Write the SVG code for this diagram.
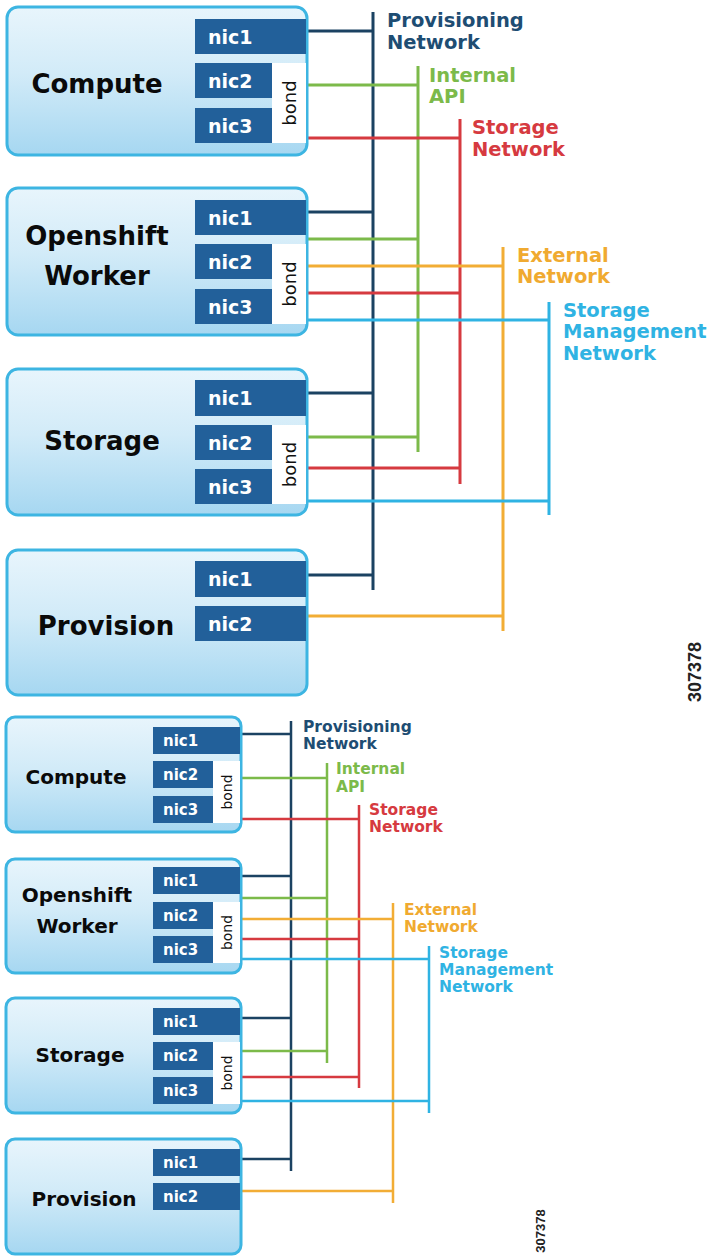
<svg xmlns="http://www.w3.org/2000/svg" width="708" height="1256" viewBox="0 0 708 1256">
<defs>
<linearGradient id="boxg" x1="0" y1="0" x2="0" y2="1">
<stop offset="0" stop-color="#e8f5fc"/>
<stop offset="0.45" stop-color="#d2ebf8"/>
<stop offset="1" stop-color="#a6d7f1"/>
</linearGradient>
<style>
.box{fill:url(#boxg);stroke:#3db5e2;stroke-width:3}
.nic{fill:#22609a}
.bond{fill:#ffffff}
.lbl{font-family:"DejaVu Sans",Verdana,sans-serif;font-weight:bold;fill:#0a0a0a;text-anchor:middle}
.nt{font-family:"DejaVu Sans",Verdana,sans-serif;font-weight:bold;fill:#ffffff}
.bt{font-family:"DejaVu Sans",Verdana,sans-serif;fill:#111111;text-anchor:middle}
.net{font-family:"DejaVu Sans",Verdana,sans-serif;font-weight:bold}
.c-prov{stroke:#1b4262;fill:none}
.c-api{stroke:#7cba4a;fill:none}
.c-sto{stroke:#d63a40;fill:none}
.c-ext{stroke:#f2ad35;fill:none}
.c-smg{stroke:#2fb3e3;fill:none}
.t-prov{fill:#1e4d73}
.t-api{fill:#7cba4a}
.t-sto{fill:#d63a40}
.t-ext{fill:#f0aa30}
.t-smg{fill:#2fb3e3}
.id{font-family:"Liberation Sans",Arial,sans-serif;fill:#222222;text-anchor:middle}
</style>
</defs>
<rect width="708" height="1256" fill="#ffffff"/>

<!-- ===== TOP DIAGRAM ===== -->
<g id="top-connectors" stroke-width="3">
<path class="c-prov" d="M373 12V590M307 31H373M307 212H373M307 393H373M307 575H373"/>
<path class="c-api" d="M418 66V452M307 85H418M307 239H418M307 437H418"/>
<path class="c-sto" d="M460 119V484M307 138H460M307 293H460M307 468H460"/>
<path class="c-ext" d="M503 247V631M307 266H503M307 616H503"/>
<path class="c-smg" d="M549 302V515M307 320H549M307 501H549"/>
</g>

<g id="top-compute">
<rect class="box" x="7" y="7" width="300" height="148" rx="11"/>
<rect class="nic" x="195" y="19" width="111" height="35"/>
<rect class="nic" x="195" y="63" width="77" height="35"/>
<rect class="nic" x="195" y="108" width="77" height="35"/>
<rect class="bond" x="272" y="63" width="34" height="80"/>
<text class="nt" x="208" y="43.5" font-size="19">nic1</text>
<text class="nt" x="208" y="87.5" font-size="19">nic2</text>
<text class="nt" x="208" y="132.5" font-size="19">nic3</text>
<text class="bt" font-size="18" transform="translate(289 103) rotate(-90)" dy="6.5">bond</text>
<text class="lbl" x="97" y="93" font-size="26">Compute</text>
</g>

<g id="top-openshift">
<rect class="box" x="7" y="188" width="300" height="147" rx="11"/>
<rect class="nic" x="195" y="200" width="111" height="35"/>
<rect class="nic" x="195" y="244" width="77" height="35"/>
<rect class="nic" x="195" y="289" width="77" height="35"/>
<rect class="bond" x="272" y="244" width="34" height="80"/>
<text class="nt" x="208" y="224.5" font-size="19">nic1</text>
<text class="nt" x="208" y="268.5" font-size="19">nic2</text>
<text class="nt" x="208" y="313.5" font-size="19">nic3</text>
<text class="bt" font-size="18" transform="translate(289 284) rotate(-90)" dy="6.5">bond</text>
<text class="lbl" x="97" y="245" font-size="26">Openshift</text>
<text class="lbl" x="97" y="285" font-size="26">Worker</text>
</g>

<g id="top-storage">
<rect class="box" x="7" y="369" width="300" height="146" rx="11"/>
<rect class="nic" x="195" y="380" width="111" height="36"/>
<rect class="nic" x="195" y="425" width="77" height="35"/>
<rect class="nic" x="195" y="469" width="77" height="35"/>
<rect class="bond" x="272" y="425" width="34" height="79"/>
<text class="nt" x="208" y="405" font-size="19">nic1</text>
<text class="nt" x="208" y="449.5" font-size="19">nic2</text>
<text class="nt" x="208" y="493.5" font-size="19">nic3</text>
<text class="bt" font-size="18" transform="translate(289 464.5) rotate(-90)" dy="6.5">bond</text>
<text class="lbl" x="102" y="450" font-size="26">Storage</text>
</g>

<g id="top-provision">
<rect class="box" x="7" y="550" width="300" height="145" rx="11"/>
<rect class="nic" x="195" y="561" width="111" height="36"/>
<rect class="nic" x="195" y="606" width="111" height="35"/>
<text class="nt" x="208" y="586" font-size="19">nic1</text>
<text class="nt" x="208" y="630.5" font-size="19">nic2</text>
<text class="lbl" x="106" y="635" font-size="26">Provision</text>
</g>

<g id="top-labels" font-size="19.5">
<text class="net t-prov" x="387" y="27">Provisioning</text>
<text class="net t-prov" x="387" y="48.5">Network</text>
<text class="net t-api" x="429" y="82">Internal</text>
<text class="net t-api" x="429" y="103">API</text>
<text class="net t-sto" x="472" y="134">Storage</text>
<text class="net t-sto" x="472" y="156">Network</text>
<text class="net t-ext" x="517" y="262">External</text>
<text class="net t-ext" x="517" y="283">Network</text>
<text class="net t-smg" x="563" y="317">Storage</text>
<text class="net t-smg" x="563" y="338">Management</text>
<text class="net t-smg" x="563" y="360">Network</text>
</g>
<text class="id" font-size="18" font-weight="bold" transform="translate(695 672) rotate(-90)" dy="6">307378</text>

<!-- ===== BOTTOM DIAGRAM ===== -->
<g id="bottom-connectors" stroke-width="2.5">
<path class="c-prov" d="M291 721V1171M241 734H291M241 876H291M241 1018H291M241 1159H291"/>
<path class="c-api" d="M327 763V1063M241 778H327M241 898H327M241 1051H327"/>
<path class="c-sto" d="M359 805V1088M241 819H359M241 939H359M241 1077H359"/>
<path class="c-ext" d="M393 903V1203M241 919H393M241 1191H393"/>
<path class="c-smg" d="M429 946V1113M241 959H429M241 1101H429"/>
</g>

<g id="bottom-compute">
<rect class="box" x="6" y="717" width="235" height="115" rx="9" stroke-width="2.5"/>
<rect class="nic" x="153" y="727" width="87" height="27"/>
<rect class="nic" x="153" y="761" width="60" height="27"/>
<rect class="nic" x="153" y="796" width="60" height="27"/>
<rect class="bond" x="213" y="761" width="27" height="62"/>
<text class="nt" x="163" y="746" font-size="15">nic1</text>
<text class="nt" x="163" y="780" font-size="15">nic2</text>
<text class="nt" x="163" y="815" font-size="15">nic3</text>
<text class="bt" font-size="14" transform="translate(226.5 792) rotate(-90)" dy="5">bond</text>
<text class="lbl" x="76" y="784" font-size="20">Compute</text>
</g>

<g id="bottom-openshift">
<rect class="box" x="6" y="859" width="235" height="114" rx="9" stroke-width="2.5"/>
<rect class="nic" x="153" y="867" width="87" height="27"/>
<rect class="nic" x="153" y="902" width="60" height="27"/>
<rect class="nic" x="153" y="936" width="60" height="27"/>
<rect class="bond" x="213" y="902" width="27" height="61"/>
<text class="nt" x="163" y="886" font-size="15">nic1</text>
<text class="nt" x="163" y="921" font-size="15">nic2</text>
<text class="nt" x="163" y="955" font-size="15">nic3</text>
<text class="bt" font-size="14" transform="translate(226.5 932.5) rotate(-90)" dy="5">bond</text>
<text class="lbl" x="77" y="902" font-size="20">Openshift</text>
<text class="lbl" x="77" y="933" font-size="20">Worker</text>
</g>

<g id="bottom-storage">
<rect class="box" x="6" y="998" width="235" height="115" rx="9" stroke-width="2.5"/>
<rect class="nic" x="153" y="1008" width="87" height="27"/>
<rect class="nic" x="153" y="1042" width="60" height="28"/>
<rect class="nic" x="153" y="1077" width="60" height="27"/>
<rect class="bond" x="213" y="1042" width="27" height="62"/>
<text class="nt" x="163" y="1027" font-size="15">nic1</text>
<text class="nt" x="163" y="1061" font-size="15">nic2</text>
<text class="nt" x="163" y="1096" font-size="15">nic3</text>
<text class="bt" font-size="14" transform="translate(226.5 1073) rotate(-90)" dy="5">bond</text>
<text class="lbl" x="80" y="1062" font-size="20">Storage</text>
</g>

<g id="bottom-provision">
<rect class="box" x="6" y="1139" width="235" height="115" rx="9" stroke-width="2.5"/>
<rect class="nic" x="153" y="1149" width="87" height="27"/>
<rect class="nic" x="153" y="1183" width="87" height="27"/>
<text class="nt" x="163" y="1168" font-size="15">nic1</text>
<text class="nt" x="163" y="1202" font-size="15">nic2</text>
<text class="lbl" x="84" y="1206" font-size="20">Provision</text>
</g>

<g id="bottom-labels" font-size="15.5">
<text class="net t-prov" x="303" y="732">Provisioning</text>
<text class="net t-prov" x="303" y="749">Network</text>
<text class="net t-api" x="336" y="774">Internal</text>
<text class="net t-api" x="336" y="792">API</text>
<text class="net t-sto" x="369" y="815">Storage</text>
<text class="net t-sto" x="369" y="832">Network</text>
<text class="net t-ext" x="404" y="915">External</text>
<text class="net t-ext" x="404" y="932">Network</text>
<text class="net t-smg" x="439" y="958">Storage</text>
<text class="net t-smg" x="439" y="975">Management</text>
<text class="net t-smg" x="439" y="992">Network</text>
</g>
<text class="id" font-size="13" font-weight="bold" transform="translate(540 1231) rotate(-90)" dy="4.5">307378</text>
</svg>
